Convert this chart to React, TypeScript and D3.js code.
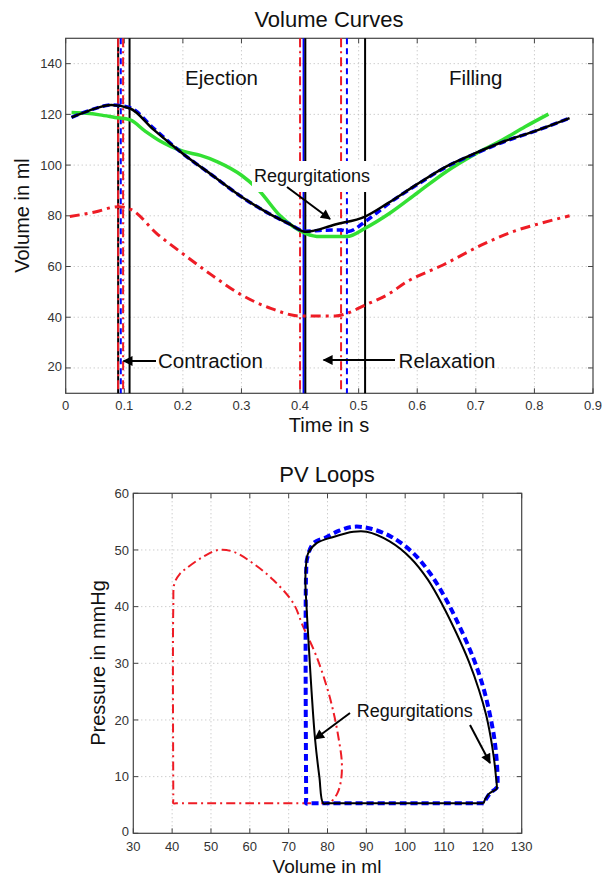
import React from "react";
import * as d3 from "d3";

// ---------- Data: Volume curves ----------
const TIME_TICKS = [0, 0.1, 0.2, 0.3, 0.4, 0.5, 0.6, 0.7, 0.8, 0.9];
const VOL_TICKS = [20, 40, 60, 80, 100, 120, 140];

const greenT = [0.01, 0.036, 0.058, 0.084, 0.11, 0.135, 0.161, 0.18, 0.2, 0.23, 0.26, 0.3, 0.33, 0.366, 0.41, 0.434, 0.48, 0.511, 0.553, 0.6, 0.65, 0.7, 0.745, 0.784, 0.824];
const greenV = [120.7, 120.4, 119.8, 118.8, 117.8, 113.5, 109.5, 107.3, 105.5, 103.8, 101.2, 96, 90, 80, 73, 71.8, 71.8, 75.1, 81, 89, 97.5, 104.5, 109.9, 115.1, 120.1];

const blackT = [0.01, 0.04, 0.078, 0.11, 0.15, 0.2, 0.25, 0.3, 0.35, 0.38, 0.41, 0.46, 0.511, 0.55, 0.6, 0.65, 0.7, 0.75, 0.8, 0.86];
const blackV = [118.8, 121.5, 123.7, 122.3, 114, 104.5, 96, 87.5, 80.5, 77, 73.7, 76.6, 79.7, 85, 92.5, 99.5, 104.8, 109.5, 113.3, 118.5];

const blueT = [0.01, 0.04, 0.078, 0.11, 0.15, 0.2, 0.25, 0.3, 0.35, 0.38, 0.41, 0.44, 0.47, 0.482, 0.511, 0.53, 0.55, 0.6, 0.65, 0.7, 0.75, 0.8, 0.86];
const blueV = [118.8, 121.5, 123.7, 122.6, 114.5, 104.5, 96, 87.5, 80.5, 77, 73.9, 74.3, 74.4, 73.8, 77.7, 81, 84.6, 92.3, 99.3, 104.6, 109.4, 113.3, 118.5];

const redT = [0.007, 0.05, 0.09, 0.113, 0.155, 0.195, 0.25, 0.3, 0.35, 0.4, 0.46, 0.48, 0.511, 0.553, 0.578, 0.644, 0.71, 0.76, 0.81, 0.86];
const redV = [79.7, 81.5, 83.6, 82.3, 73.1, 65.9, 56.5, 48.8, 43.5, 40.5, 40.5, 41.5, 44.8, 49.4, 53.4, 60.6, 68.5, 73.5, 77, 80];

// valve event markers (time in s)
const blueMarkers = [0.094, 0.406, 0.48];
const blackMarkers = [0.0895, 0.109, 0.409, 0.511];
const redMarkers = [0.0895, 0.098, 0.4, 0.47];

// ---------- Data: PV loops ----------
const PV_X_TICKS = [30, 40, 50, 60, 70, 80, 90, 100, 110, 120, 130];
const PV_Y_TICKS = [0, 10, 20, 30, 40, 50, 60];

const redPV_V = [80.7, 60, 41, 40.3, 40.3, 40.3, 40.6, 42, 43.75, 48, 51.9, 55.75, 60.9, 66.06, 71.2, 73.7, 77, 79.8, 81.5, 82.8, 83.7, 83.4, 82.5, 80.7];
const redPV_P = [5.3, 5.3, 5.3, 5.3, 6, 40, 44.1, 45.8, 46.8, 48.8, 50, 49.7, 47.6, 44.7, 40.6, 36.5, 31.5, 25.9, 21.5, 17, 12.4, 9, 7, 5.3];

const bluePV_V = [120.2, 100, 76, 74.5, 74.5, 74.5, 74.8, 76.4, 79.8, 83, 86.7, 90.95, 96.5, 102, 106.5, 110.5, 114.2, 117.5, 120, 121.8, 123, 123.6, 123.8, 123.7, 123.2, 121.9, 120.8, 120.2];
const bluePV_P = [5.3, 5.3, 5.3, 5.3, 6, 46, 48.6, 51.2, 52.3, 53.4, 54.1, 53.8, 52.3, 49.5, 45.8, 41.3, 36.2, 31, 26, 21, 16.5, 12.5, 9.5, 8.2, 7.8, 7.1, 6, 5.3];

const blackPV_V = [120.2, 100, 80, 78.9, 77.9, 76.8, 75.9, 75.04, 74.6, 74.3, 74.5, 75.0, 77.2, 81.5, 86.7, 90.1, 96, 101.5, 105.8, 109.6, 113.2, 116.4, 119, 120.8, 122, 122.8, 123.3, 123.6, 123.5, 121.6, 120.6, 120.2];
const blackPV_P = [5.3, 5.3, 5.3, 5.3, 10, 16.6, 25, 34.7, 40, 44.7, 47.5, 49.4, 51.2, 52.3, 53.2, 53.2, 51.5, 48.5, 44.8, 40.3, 35.3, 30.3, 25.3, 21, 17, 13.5, 10.5, 7.9, 7.8, 7, 6, 5.3];

const FONT = "'Liberation Sans', Arial, Helvetica, sans-serif";
const GRID = "#b8b8b8";
const AXIS = "#444";

type Scale = d3.ScaleLinear<number, number>;

function Frame({ x, y, xt, yt, xFmt, yFmt, xLabY, yLabX }: { x: Scale; y: Scale; xt: number[]; yt: number[]; xFmt: (v: number) => string; yFmt: (v: number) => string; xLabY: number; yLabX: number }) {
  const [x0, x1] = x.range();
  const [y0, y1] = y.range(); // y0 bottom, y1 top
  const tl = 5;
  return (
    <g>
      {xt.map((t, i) => (
        <g key={"xg" + i}>
          {i > 0 && i < xt.length - 1 && (
            <line x1={x(t)} x2={x(t)} y1={y1} y2={y0} stroke={GRID} strokeWidth={1} strokeDasharray="1 3" />
          )}
          <line x1={x(t)} x2={x(t)} y1={y0} y2={y0 - tl} stroke={AXIS} strokeWidth={1} />
          <line x1={x(t)} x2={x(t)} y1={y1} y2={y1 + tl} stroke={AXIS} strokeWidth={1} />
          <text x={x(t)} y={xLabY} textAnchor="middle" fontSize={13} fill="#333" fontFamily={FONT}>{xFmt(t)}</text>
        </g>
      ))}
      {yt.map((v, i) => (
        <g key={"yg" + i}>
          {y(v) > y1 + 1 && y(v) < y0 - 1 && (
            <line x1={x0} x2={x1} y1={y(v)} y2={y(v)} stroke={GRID} strokeWidth={1} strokeDasharray="1 3" />
          )}
          <line x1={x0} x2={x0 + tl} y1={y(v)} y2={y(v)} stroke={AXIS} strokeWidth={1} />
          <line x1={x1} x2={x1 - tl} y1={y(v)} y2={y(v)} stroke={AXIS} strokeWidth={1} />
          <text x={yLabX} y={y(v)} dy={i === 0 ? "0.2em" : "0.35em"} textAnchor="end" fontSize={13} fill="#333" fontFamily={FONT}>{yFmt(v)}</text>
        </g>
      ))}
      <rect x={x0} y={y1} width={x1 - x0} height={y0 - y1} fill="none" stroke={AXIS} strokeWidth={1.2} />
    </g>
  );
}

export default function App() {
  // top chart scales
  const xT = d3.scaleLinear().domain([0, 0.9]).range([65.7, 593]);
  const yT = d3.scaleLinear().domain([10, 150]).range([393.3, 38.3]);
  // bottom chart scales
  const xP = d3.scaleLinear().domain([30, 130]).range([133.3, 521.7]);
  const yP = d3.scaleLinear().domain([0, 60]).range([833.3, 493.3]);

  const tLine = d3.line<[number, number]>().x(d => xT(d[0])).y(d => yT(d[1])).curve(d3.curveMonotoneX);
  const pvLine = d3.line<[number, number]>().x(d => xP(d[0])).y(d => yP(d[1])).curve(d3.curveCatmullRom.alpha(0.5));

  const zip = (a: number[], b: number[]) => a.map((v, i) => [v, b[i]] as [number, number]);

  const top = yT.range()[1];
  const bot = yT.range()[0];

  const vline = (t: number, color: string, dash: string | undefined, key: string) => (
    <line key={key} x1={xT(t)} x2={xT(t)} y1={top} y2={bot} stroke={color} strokeWidth={2} strokeDasharray={dash} />
  );

  return (
    <svg width={602} height={876} style={{ position: "absolute", left: 0, top: 0, background: "#fff" }} fontFamily={FONT}>
      <defs>
        <marker id="ah" viewBox="0 0 10 10" refX={9} refY={5} markerWidth={12} markerHeight={10} markerUnits="userSpaceOnUse" orient="auto">
          <path d="M0,0 L10,5 L0,10 z" fill="#000" />
        </marker>
      </defs>
      <rect x={0} y={0} width={602} height={876} fill="#fff" />

      {/* ---------- Volume Curves ---------- */}
      <text x={329} y={27} textAnchor="middle" fontSize={22} fill="#111">Volume Curves</text>
      <Frame x={xT} y={yT} xt={TIME_TICKS} yt={VOL_TICKS} xFmt={v => (v === 0 ? "0" : d3.format(".1f")(v))} yFmt={v => String(v)} xLabY={410} yLabX={62} />

      {blueMarkers.map((t, i) => vline(t, "#0000ff", t === 0.406 ? undefined : "6 4", "bm" + i))}
      {blackMarkers.map((t, i) => vline(t, "#000", undefined, "km" + i))}
      {redMarkers.map((t, i) => vline(t, "#ee1c25", "9 4 2 4", "rm" + i))}

      <path d={tLine(zip(greenT, greenV)) || ""} fill="none" stroke="#33e033" strokeWidth={3.5} />
      <path d={tLine(zip(redT, redV)) || ""} fill="none" stroke="#ee1c25" strokeWidth={3} strokeDasharray="10 5 3 5" />
      <path d={tLine(zip(blueT, blueV)) || ""} fill="none" stroke="#0000ff" strokeWidth={3.5} strokeDasharray="7 4" />
      <path d={tLine(zip(blackT, blackV)) || ""} fill="none" stroke="#000" strokeWidth={2.5} />

      <text x={221.5} y={85} textAnchor="middle" fontSize={20.5} fill="#111">Ejection</text>
      <text x={475.7} y={85} textAnchor="middle" fontSize={20.5} fill="#111">Filling</text>

      <rect x={252} y={161} width={120} height={31} fill="#fff" />
      <text x={312} y={182} textAnchor="middle" fontSize={18} fill="#111">Regurgitations</text>
      <line x1={287} y1={187} x2={330} y2={219} stroke="#000" strokeWidth={2} markerEnd="url(#ah)" />

      <text x={158} y={368} fontSize={20.5} fill="#111">Contraction</text>
      <line x1={156} y1={361} x2={123.5} y2={361} stroke="#000" strokeWidth={2} markerEnd="url(#ah)" />
      <text x={398.6} y={368} fontSize={20.5} fill="#111">Relaxation</text>
      <line x1={395} y1={360} x2={323.6} y2={360} stroke="#000" strokeWidth={2} markerEnd="url(#ah)" />

      <text x={329} y={432} textAnchor="middle" fontSize={20} fill="#111">Time in s</text>
      <text transform={`translate(29,215.5) rotate(-90)`} textAnchor="middle" fontSize={20} fill="#111">Volume in ml</text>

      {/* ---------- PV Loops ---------- */}
      <text x={327} y={481.7} textAnchor="middle" fontSize={22} fill="#111">PV Loops</text>
      <Frame x={xP} y={yP} xt={PV_X_TICKS} yt={PV_Y_TICKS} xFmt={v => String(v)} yFmt={v => String(v)} xLabY={851} yLabX={129} />

      <path d={pvLine(zip(redPV_V, redPV_P)) || ""} fill="none" stroke="#ee1c25" strokeWidth={2} strokeDasharray="9 4 2 4" />
      <path d={pvLine(zip(bluePV_V, bluePV_P)) || ""} fill="none" stroke="#0000ff" strokeWidth={4} strokeDasharray="7 4" />
      <path d={pvLine(zip(blackPV_V, blackPV_P)) || ""} fill="none" stroke="#000" strokeWidth={2} />

      <text x={356.7} y={717} fontSize={18} fill="#111">Regurgitations</text>
      <line x1={350} y1={713} x2={315} y2={739} stroke="#000" strokeWidth={2} markerEnd="url(#ah)" />
      <line x1={470} y1={725} x2={490} y2={763} stroke="#000" strokeWidth={2} markerEnd="url(#ah)" />

      <text x={327} y={873} textAnchor="middle" fontSize={19} fill="#111">Volume in ml</text>
      <text transform={`translate(105,663) rotate(-90)`} textAnchor="middle" fontSize={20} fill="#111">Pressure in mmHg</text>
    </svg>
  );
}
